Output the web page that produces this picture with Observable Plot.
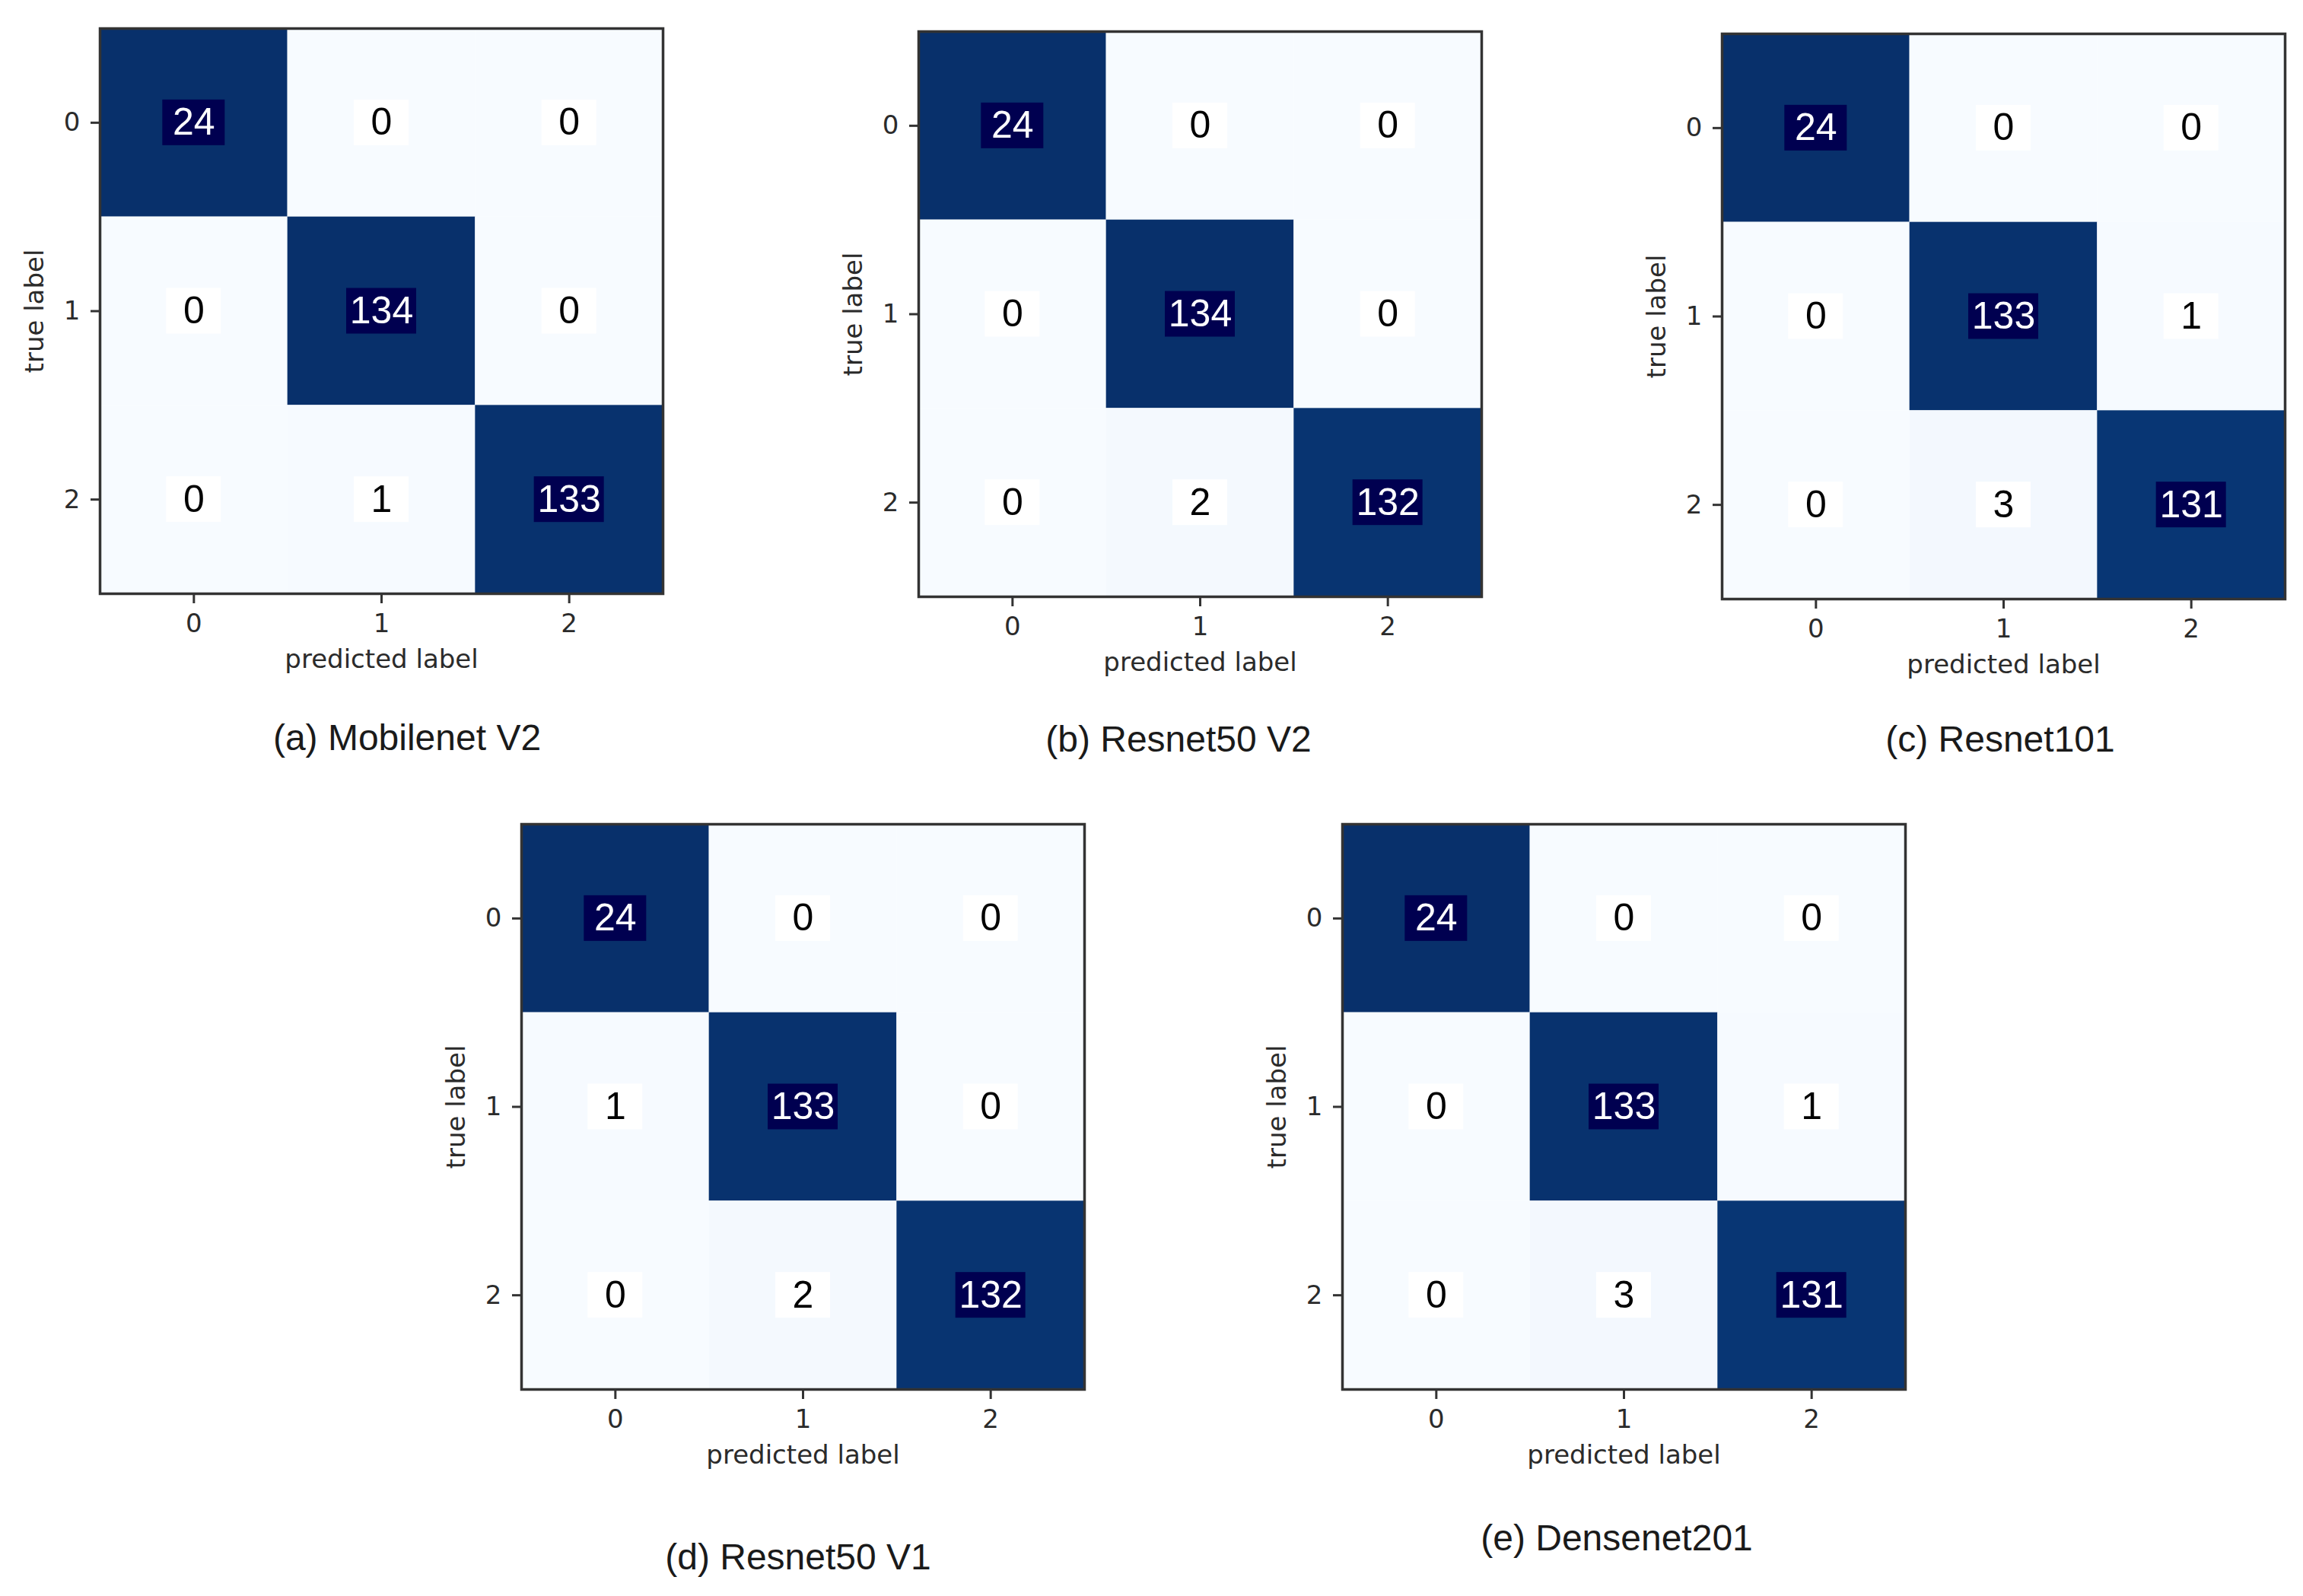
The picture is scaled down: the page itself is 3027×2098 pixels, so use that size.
<!DOCTYPE html>
<html>
<head>
<meta charset="utf-8">
<script src="https://cdn.jsdelivr.net/npm/d3@7"></script>
<script src="https://cdn.jsdelivr.net/npm/@observablehq/plot@0.6"></script>
<style>
  html, body { margin: 0; padding: 0; background: #ffffff; }
  body { width: 3027px; height: 2098px; position: relative; overflow: hidden; }
  .panel { position: absolute; }
  .caption {
    position: absolute;
    font-family: "Liberation Sans", Arial, sans-serif;
    font-size: 48px;
    color: #1a1a1a;
    transform: translate(-50%, -50%);
    white-space: nowrap;
  }
</style>
</head>
<body>
<script>
// ---------- data ----------
const classLabels = [0, 1, 2];
const xAxisTitle = "predicted label";
const yAxisTitle = "true label";
const captions = [
  "(a) Mobilenet V2",
  "(b) Resnet50 V2",
  "(c) Resnet101",
  "(d) Resnet50 V1",
  "(e) Densenet201"
];
const mobilenetV2 = [[24, 0, 0], [0, 134, 0], [0, 1, 133]];
const resnet50V2  = [[24, 0, 0], [0, 134, 0], [0, 2, 132]];
const resnet101   = [[24, 0, 0], [0, 133, 1], [0, 3, 131]];
const resnet50V1  = [[24, 0, 0], [1, 133, 0], [0, 2, 132]];
const densenet201 = [[24, 0, 0], [0, 133, 1], [0, 3, 131]];
const matrices = [mobilenetV2, resnet50V2, resnet101, resnet50V1, densenet201];

// ---------- layout (page positions of each panel frame and caption) ----------
const layout = [
  {left: 131,  top: 37,   cx: 535,  cy: 969},
  {left: 1207, top: 41,   cx: 1549, cy: 971},
  {left: 2263, top: 44,   cx: 2629, cy: 971},
  {left: 685,  top: 1083, cx: 1049, cy: 2046},
  {left: 1764, top: 1083, cx: 2125, cy: 2021}
];
const ML = 130, MT = 12, MR = 12, MB = 130, FW = 740, FH = 743;

function panel(matrix) {
  // colours follow the row-normalised rate (each true class sums to 1)
  const cells = matrix.flatMap((row, i) => {
    const total = d3.sum(row);
    return row.map((v, j) => ({row: i, col: j, value: v, rate: v / total}));
  });
  const unitX = FW / classLabels.length;
  const unitY = FH / classLabels.length;
  const halfW = d => (62 + 10 * String(d.value).length) / 2 / unitX;
  const halfH = 30 / unitY;
  const dark = d => d.rate > 0.5;
  return Plot.plot({
    width: ML + FW + MR,
    height: MT + FH + MB,
    marginLeft: ML, marginTop: MT, marginRight: MR, marginBottom: MB,
    style: {fontFamily: "'DejaVu Sans', sans-serif", fontSize: "34px", color: "#2b2b2b", background: "transparent", overflow: "visible"},
    x: {domain: [-0.5, classLabels.length - 0.5], label: null},
    y: {domain: [-0.5, classLabels.length - 0.5], reverse: true, label: null},
    color: {type: "linear", scheme: "blues", domain: [0, 1]},
    marks: [
      Plot.rect(cells, {
        x1: d => d.col - 0.5, x2: d => d.col + 0.5,
        y1: d => d.row - 0.5, y2: d => d.row + 0.5,
        fill: "rate"
      }),
      Plot.rect(cells, {
        x1: d => d.col - halfW(d), x2: d => d.col + halfW(d),
        y1: d => d.row - halfH, y2: d => d.row + halfH,
        fill: d => dark(d) ? "#000050" : "#ffffff"
      }),
      Plot.text(cells, {
        x: "col", y: "row", text: d => String(d.value),
        fill: d => dark(d) ? "#ffffff" : "#000000",
        fontSize: 50, fontFamily: "'Liberation Sans', Arial, sans-serif"
      }),
      Plot.frame({stroke: "#333333", strokeWidth: 3.5}),
      Plot.axisX({ticks: classLabels, tickFormat: d => String(d), tickSize: 13, tickPadding: 13,
        stroke: "#333333", strokeWidth: 3, fontSize: 34, label: null}),
      Plot.axisY({ticks: classLabels, tickFormat: d => String(d), tickSize: 12, tickPadding: 14,
        stroke: "#333333", strokeWidth: 3, fontSize: 34, label: null}),
      Plot.text([xAxisTitle], {text: d => d, frameAnchor: "bottom", lineAnchor: "middle", textAnchor: "middle",
        dy: 87, fontSize: 34, fill: "#2b2b2b"}),
      Plot.text([yAxisTitle], {text: d => d, frameAnchor: "left", textAnchor: "middle", lineAnchor: "middle",
        dx: -85, rotate: -90, fontSize: 34, fill: "#2b2b2b"})
    ]
  });
}

matrices.forEach((m, k) => {
  const L = layout[k];
  const div = document.createElement("div");
  div.className = "panel";
  div.style.left = (L.left - ML) + "px";
  div.style.top = (L.top - MT) + "px";
  div.style.width = (ML + FW + MR) + "px";
  div.style.height = (MT + FH + MB) + "px";
  div.appendChild(panel(m));
  document.body.appendChild(div);

  const cap = document.createElement("div");
  cap.className = "caption";
  cap.style.left = L.cx + "px";
  cap.style.top = L.cy + "px";
  cap.textContent = captions[k];
  document.body.appendChild(cap);
});
</script>
</body>
</html>
